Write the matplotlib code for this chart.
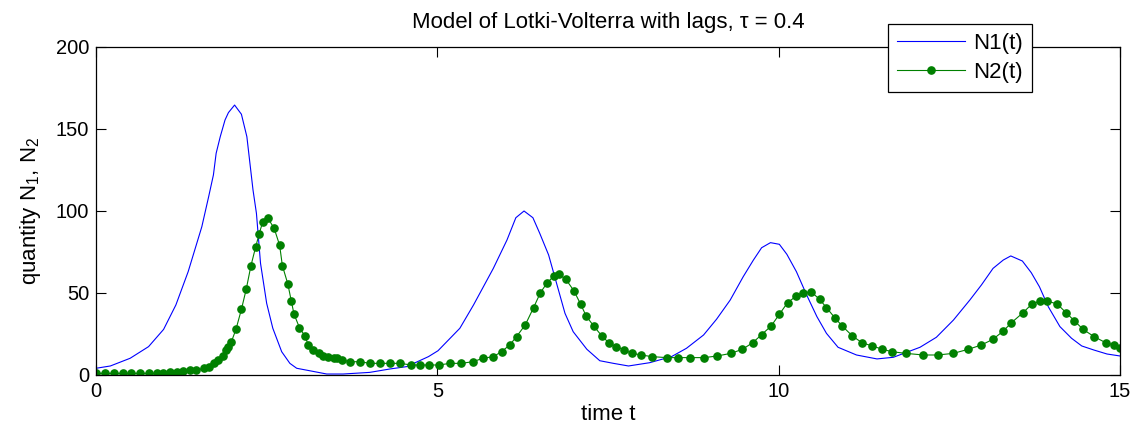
import matplotlib
matplotlib.use("Agg")
import matplotlib.pyplot as plt

plt.rcParams['font.family'] = ['Liberation Sans', 'DejaVu Sans']
plt.rcParams['mathtext.fontset'] = 'custom'
plt.rcParams['mathtext.rm'] = 'Liberation Sans'
plt.rcParams['mathtext.default'] = 'regular'

# ---- data ----
t_n1 = [0, 0.21, 0.50, 0.77, 0.99, 1.17, 1.35, 1.55, 1.65, 1.72, 1.76, 1.82, 1.89, 1.94,
        2.03, 2.13, 2.21, 2.30, 2.35, 2.41, 2.50, 2.59, 2.72, 2.84, 2.94, 3.13, 3.38, 3.62,
        4.01, 4.31, 4.55, 4.87, 5.01, 5.33, 5.53, 5.82, 6.02, 6.15, 6.27, 6.40, 6.50, 6.63,
        6.74, 6.87, 6.99, 7.19, 7.38, 7.58, 7.80, 8.11, 8.43, 8.65, 8.90, 9.09, 9.29, 9.48,
        9.63, 9.75, 9.88, 10.01, 10.12, 10.26, 10.41, 10.56, 10.70, 10.87, 11.14, 11.44,
        11.68, 12.07, 12.31, 12.56, 12.80, 12.97, 13.14, 13.29, 13.40, 13.57, 13.70, 13.82,
        13.95, 14.12, 14.29, 14.44, 14.62, 14.81, 15.0]
n1 = [4.1, 5.5, 10.2, 17.3, 27.8, 42.7, 63.0, 90.4, 108.7, 122.0, 135.2, 145.3, 155.5, 160.0,
      164.6, 159.0, 145.3, 112.8, 98.6, 68.1, 43.7, 28.5, 14.2, 7.1, 4.1, 2.6, 0.6, 0.6,
      1.6, 3.7, 5.1, 11.2, 14.8, 28.5, 42.7, 65.0, 82.3, 95.9, 100.0, 95.9, 86.4, 73.2,
      56.9, 37.6, 26.4, 15.7, 8.7, 7.1, 5.5, 7.5, 11.2, 16.3, 24.4, 34.0, 45.7, 59.9,
      70.1, 77.6, 80.7, 79.7, 73.6, 63.0, 48.8, 35.6, 25.4, 16.9, 12.2, 9.8,
      10.8, 16.9, 23.0, 33.5, 45.7, 54.9, 65.0, 70.1, 72.6, 69.5, 62.4, 53.8,
      41.6, 29.5, 22.4, 17.7, 15.2, 12.8, 11.6]

t_n2 = [0, 0.13, 0.26, 0.39, 0.52, 0.64, 0.78, 0.89, 0.98, 1.08, 1.19, 1.28, 1.38, 1.47,
        1.58, 1.66, 1.73, 1.79, 1.86, 1.91, 1.94, 1.98, 2.05, 2.13, 2.20, 2.27, 2.34, 2.39,
        2.44, 2.52, 2.61, 2.69, 2.73, 2.81, 2.86, 2.90, 2.98, 3.06, 3.11, 3.18, 3.26, 3.33,
        3.40, 3.48, 3.53, 3.61, 3.72, 3.87, 4.01, 4.16, 4.31, 4.46, 4.61, 4.74, 4.88, 5.03,
        5.18, 5.35, 5.52, 5.67, 5.82, 5.94, 6.06, 6.16, 6.29, 6.41, 6.51, 6.61, 6.71, 6.78,
        6.88, 7.00, 7.10, 7.18, 7.29, 7.41, 7.52, 7.62, 7.74, 7.85, 7.99, 8.14, 8.36, 8.53,
        8.70, 8.91, 9.10, 9.30, 9.47, 9.62, 9.75, 9.89, 10.01, 10.13, 10.26, 10.36, 10.48,
        10.60, 10.70, 10.82, 10.93, 11.08, 11.22, 11.37, 11.52, 11.66, 11.86, 12.12, 12.33,
        12.56, 12.78, 12.97, 13.14, 13.29, 13.41, 13.58, 13.71, 13.83, 13.93, 14.08, 14.21,
        14.33, 14.46, 14.62, 14.79, 14.91, 15.0]
n2 = [1.0, 1.0, 1.0, 1.0, 1.0, 1.0, 1.0, 1.0, 1.4, 2.0, 2.0, 2.4, 3.0, 3.0,
      4.0, 5.1, 7.1, 9.1, 11.6, 15.2, 17.3, 19.9, 27.8, 40.0, 52.2, 66.7, 78.3, 86.0,
      93.1, 95.5, 89.4, 79.1, 66.7, 55.5, 45.3, 37.2, 28.9, 23.8, 18.3, 15.2, 13.2, 11.8,
      10.8, 10.2, 10.2, 9.1, 8.1, 8.1, 7.1, 7.1, 7.1, 7.1, 6.1, 6.1, 6.1, 6.1,
      7.1, 7.1, 8.1, 10.2, 11.2, 14.2, 18.3, 23.4, 30.7, 41.1, 50.2, 56.3, 60.4, 61.4,
      58.5, 51.4, 43.1, 36.0, 29.9, 23.8, 19.3, 17.3, 15.2, 13.2, 12.2, 11.2, 10.6, 10.6,
      10.6, 10.6, 11.6, 13.2, 15.7, 19.7, 24.6, 29.9, 37.0, 44.1, 48.2, 50.2, 50.6,
      46.1, 41.1, 35.0, 29.9, 23.8, 19.7, 17.7, 15.7, 14.2, 13.2, 12.2, 12.2,
      13.2, 15.7, 18.3, 21.8, 26.8, 31.9, 38.0, 43.3, 45.1, 45.1, 43.3, 38.0,
      33.1, 27.8, 23.4, 19.7, 18.3, 16.7]

x_ticks = [0, 5, 10, 15]
y_ticks = [0, 50, 100, 150, 200]
title = "Model of Lotki-Volterra with lags, \u03c4 = 0.4"

# ---- figure ----
W, H = 1132, 433
fig = plt.figure(figsize=(W / 100, H / 100), dpi=100)
ax = fig.add_axes([96 / W, 1 - 375 / H, (1120 - 96) / W, (375 - 47) / H])

fs = 14.5
fs_lab = 16
ax.plot(t_n1, n1, color='#0000ff', lw=0.8, label='N1(t)')
ax.plot(t_n2, n2, color='#008000', lw=0.8, marker='o', ms=5.2, mec='#008000',
        mfc='#008000', label='N2(t)')

ax.set_xlim(0, 15)
ax.set_ylim(0, 200)
ax.set_xticks(x_ticks)
ax.set_yticks(y_ticks)
ax.tick_params(direction='in', top=True, right=True, length=7.5, width=0.8,
               labelsize=fs, pad=5)
for s in ax.spines.values():
    s.set_linewidth(0.9)

ax.set_title(title, fontsize=fs_lab, pad=14)
ax.set_xlabel('time t', fontsize=fs_lab, labelpad=2)
ax.set_ylabel('quantity N$_1$, N$_2$', fontsize=fs_lab, labelpad=9)

leg = ax.legend(loc='upper left', bbox_to_anchor=(888 / W, 1 - 24 / H),
                bbox_transform=fig.transFigure, fontsize=fs_lab, frameon=True,
                fancybox=False, edgecolor='black', framealpha=1,
                borderaxespad=0, handlelength=3.05, handletextpad=0.4,
                borderpad=0.4, labelspacing=0.35, markerscale=1.0, numpoints=1)
leg.get_frame().set_linewidth(0.9)

fig.savefig('out.png', dpi=100)
